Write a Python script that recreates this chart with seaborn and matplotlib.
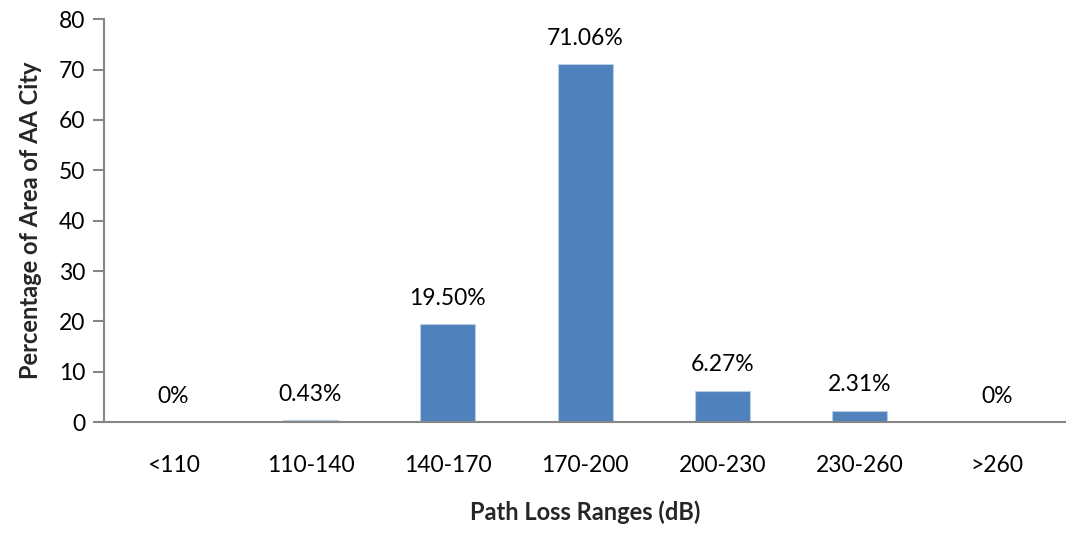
import matplotlib
matplotlib.use("Agg")
import matplotlib.pyplot as plt
import seaborn as sns
import pandas as pd

# Path loss ranges and the share of city area falling into each
ranges = ["<110", "110-140", "140-170", "170-200", "200-230", "230-260", ">260"]
area_pct = [0.0, 0.43, 19.50, 71.06, 6.27, 2.31, 0.0]
value_labels = ["0%", "0.43%", "19.50%", "71.06%", "6.27%", "2.31%", "0%"]
y_ticks = [0, 10, 20, 30, 40, 50, 60, 70, 80]

df = pd.DataFrame({"range": ranges, "pct": area_pct})

sns.set_theme(style="white")
plt.rcParams["font.family"] = ["Lato", "DejaVu Sans"]

bar_color = "#4F81BD"
axis_color = "#868686"

fig = plt.figure(figsize=(10.66, 5.33), dpi=100)
ax = fig.add_axes([0.098, 0.208, 0.902, 0.756])

sns.barplot(data=df, x="range", y="pct", color=bar_color, width=0.4,
            saturation=1, ax=ax, edgecolor="#B9CDE5", linewidth=0.8)

ax.set_xlim(-0.5, len(ranges) - 0.5)
ax.set_ylim(0, y_ticks[-1])
ax.set_yticks(y_ticks)

# value labels above each bar
for i, (v, txt) in enumerate(zip(area_pct, value_labels)):
    ax.annotate(txt, (i, v), xytext=(0, 11), textcoords="offset points",
                ha="center", va="bottom", fontsize=16.5, color="#000000")

for side in ["top", "right"]:
    ax.spines[side].set_visible(False)
for side in ["left", "bottom"]:
    ax.spines[side].set_color(axis_color)
    ax.spines[side].set_linewidth(1.5)

# category boundary ticks on x axis
ax.set_xticks(range(len(ranges)))
ax.set_xticklabels(ranges)
ax.tick_params(axis="x", length=0, pad=24, labelsize=16.5, colors="#000000")
ax.set_xticks([i - 0.5 for i in range(len(ranges) + 1)], minor=True)
ax.tick_params(axis="x", which="minor", length=8, width=1.5, color=axis_color,
               direction="out")
ax.tick_params(axis="y", length=8, width=1.5, color=axis_color, direction="out",
               labelsize=16.5, pad=6, left=True)
for lab in ax.get_yticklabels():
    lab.set_color("#000000")

ax.set_xlabel("Path Loss Ranges (dB)", fontsize=17, fontweight="bold", labelpad=17)
ax.set_ylabel("Percentage of Area of AA City", fontsize=17, fontweight="bold",
              labelpad=12)

fig.savefig("out.png", dpi=100, facecolor="white")
